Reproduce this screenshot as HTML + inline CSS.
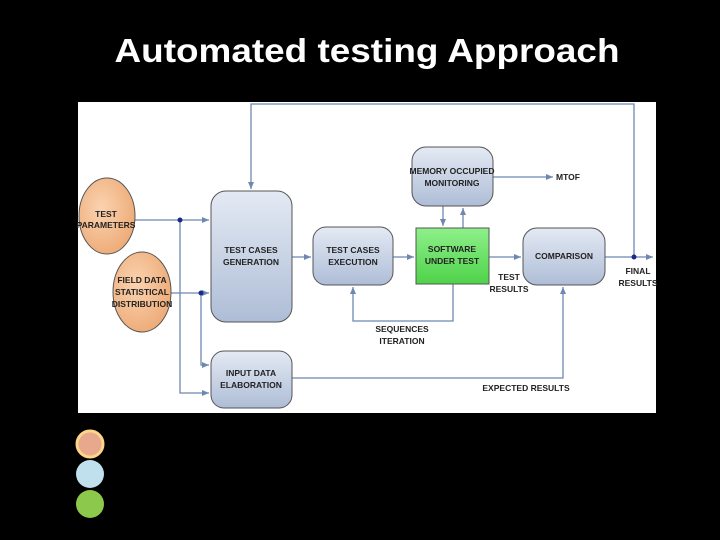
<!DOCTYPE html>
<html><head><meta charset="utf-8"><style>
html,body{margin:0;padding:0;background:#000;width:720px;height:540px;overflow:hidden}
svg{display:block}
</style></head><body>
<svg width="720" height="540" viewBox="0 0 720 540" xmlns="http://www.w3.org/2000/svg">
<defs>
<linearGradient id="bx" x1="0" y1="0" x2="0" y2="1"><stop offset="0" stop-color="#e4eaf4"/><stop offset="1" stop-color="#aebdd6"/></linearGradient>
<radialGradient id="el" cx="0.4" cy="0.4" r="0.7"><stop offset="0" stop-color="#fbd3b0"/><stop offset="1" stop-color="#eca772"/></radialGradient>
<linearGradient id="gr" x1="0" y1="0" x2="0" y2="1"><stop offset="0" stop-color="#8ef08a"/><stop offset="1" stop-color="#4fd24a"/></linearGradient>
<marker id="a" markerWidth="8" markerHeight="8" refX="7" refY="4" orient="auto" markerUnits="userSpaceOnUse"><path d="M0,1 L7,4 L0,7 z" fill="#6e88b0"/></marker>
</defs>
<text x="367" y="62" fill="#fff" font-family="Liberation Sans, sans-serif" font-size="33" font-weight="bold" text-anchor="middle" textLength="505" lengthAdjust="spacingAndGlyphs">Automated testing Approach</text>
<rect x="78" y="102" width="578" height="311" fill="#fff"/>
<g stroke="#6e88b0" stroke-width="1.3" fill="none">
<polyline points="634,257 634,104 251,104 251,189" marker-end="url(#a)"/>
<line x1="135" y1="220" x2="209" y2="220" marker-end="url(#a)"/>
<line x1="171" y1="293" x2="209" y2="293" marker-end="url(#a)"/>
<polyline points="180,220 180,393 209,393" marker-end="url(#a)"/>
<polyline points="201,293 201,365 209,365" marker-end="url(#a)"/>
<line x1="292" y1="257" x2="311" y2="257" marker-end="url(#a)"/>
<line x1="393" y1="257" x2="414" y2="257" marker-end="url(#a)"/>
<line x1="489" y1="257" x2="521" y2="257" marker-end="url(#a)"/>
<line x1="605" y1="257" x2="653" y2="257" marker-end="url(#a)"/>
<line x1="493" y1="177" x2="553" y2="177" marker-end="url(#a)"/>
<line x1="443" y1="206" x2="443" y2="226" marker-end="url(#a)"/>
<line x1="463" y1="228" x2="463" y2="208" marker-end="url(#a)"/>
<polyline points="453,284 453,321 353,321 353,287" marker-end="url(#a)"/>
<polyline points="292,378 563,378 563,287" marker-end="url(#a)"/>
</g>
<g fill="#1a2a8a"><circle cx="180" cy="220" r="2.5"/><circle cx="201" cy="293" r="2.5"/><circle cx="634" cy="257" r="2.5"/></g>
<g stroke="#555" stroke-width="1">
<ellipse cx="107" cy="216" rx="28" ry="38" fill="url(#el)"/>
<ellipse cx="142" cy="292" rx="29" ry="40" fill="url(#el)"/>
<rect x="211" y="191" width="81" height="131" rx="15" fill="url(#bx)"/>
<rect x="211" y="351" width="81" height="57" rx="13" fill="url(#bx)"/>
<rect x="313" y="227" width="80" height="58" rx="13" fill="url(#bx)"/>
<rect x="412" y="147" width="81" height="59" rx="14" fill="url(#bx)"/>
<rect x="416" y="228" width="73" height="56" fill="url(#gr)"/>
<rect x="523" y="228" width="82" height="57" rx="14" fill="url(#bx)"/>
</g>
<g font-family="Liberation Sans Narrow, Liberation Sans, sans-serif" font-size="8.5" fill="#222" text-anchor="middle" font-weight="bold">
<text x="106" y="217">TEST</text><text x="106" y="228">PARAMETERS</text>
<text x="142" y="283">FIELD DATA</text><text x="142" y="295">STATISTICAL</text><text x="142" y="307">DISTRIBUTION</text>
<text x="251" y="253">TEST CASES</text><text x="251" y="265">GENERATION</text>
<text x="353" y="253">TEST CASES</text><text x="353" y="265">EXECUTION</text>
<text x="452" y="174">MEMORY OCCUPIED</text><text x="452" y="186">MONITORING</text>
<text x="452" y="252">SOFTWARE</text><text x="452" y="264">UNDER TEST</text>
<text x="564" y="259">COMPARISON</text>
<text x="251" y="376">INPUT DATA</text><text x="251" y="388">ELABORATION</text>
<text x="568" y="180">MTOF</text>
<text x="509" y="280">TEST</text><text x="509" y="292">RESULTS</text>
<text x="638" y="274">FINAL</text><text x="638" y="286">RESULTS</text>
<text x="402" y="332">SEQUENCES</text><text x="402" y="344">ITERATION</text>
<text x="526" y="391">EXPECTED RESULTS</text>
</g>
<circle cx="90" cy="444" r="13" fill="#e8a88e" stroke="#fcd48a" stroke-width="3"/>
<circle cx="90" cy="474" r="14" fill="#bfe0ec"/>
<circle cx="90" cy="504" r="14" fill="#8cc84b"/>
</svg>
</body></html>
